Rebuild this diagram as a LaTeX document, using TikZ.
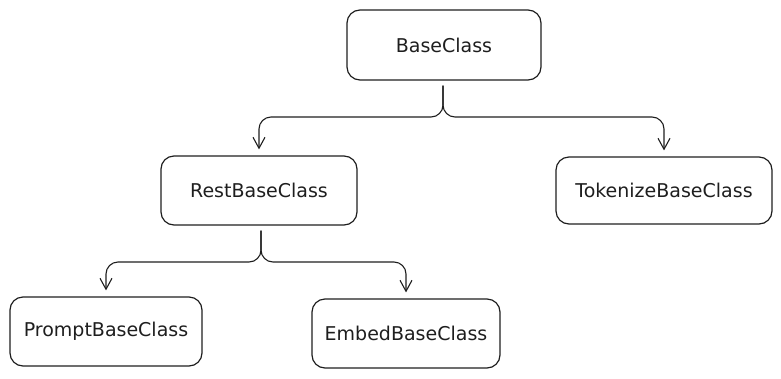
\documentclass[tikz,border=0pt]{standalone}
\usepackage{fontspec}
\setmainfont{DejaVu Sans}
\usetikzlibrary{arrows.meta}
\definecolor{ink}{HTML}{1E1E1E}
\tikzset{
  box/.style={draw=ink, line width=1.2pt, rounded corners=13pt, anchor=center,
    inner sep=0pt, text=ink, font=\fontsize{19}{23}\selectfont},
  conn/.style={draw=ink, line width=1.1pt, rounded corners=12pt,
    -{Straight Barb[length=11pt,width=12pt,line width=1.1pt]}, shorten >=6pt},
}
\begin{document}
\begin{tikzpicture}[x=1pt,y=-1pt]
\useasboundingbox (0,0) rectangle (781,378);
\node[box, minimum width=194pt, minimum height=70pt] (base) at (444,45) {BaseClass};
\node[box, minimum width=196pt, minimum height=69pt] (rest) at (259,190.5) {RestBaseClass};
\node[box, minimum width=216pt, minimum height=67pt] (tok) at (664,190.5) {TokenizeBaseClass};
\node[box, minimum width=192pt, minimum height=69pt] (prompt) at (106,331.5) {PromptBaseClass};
\node[box, minimum width=188pt, minimum height=69pt] (embed) at (406,333.5) {EmbedBaseClass};
\coordinate (j1) at (443,117);
\coordinate (j2) at (261,262);
\draw[conn] (j1 |- base.south) ++(0,5) -- (j1) -| (rest.north);
\draw[conn] (j1 |- base.south) ++(0,5) -- (j1) -| (tok.north);
\draw[conn] (j2 |- rest.south) ++(0,5) -- (j2) -| (prompt.north);
\draw[conn] (j2 |- rest.south) ++(0,5) -- (j2) -| (embed.north);
\end{tikzpicture}
\end{document}
